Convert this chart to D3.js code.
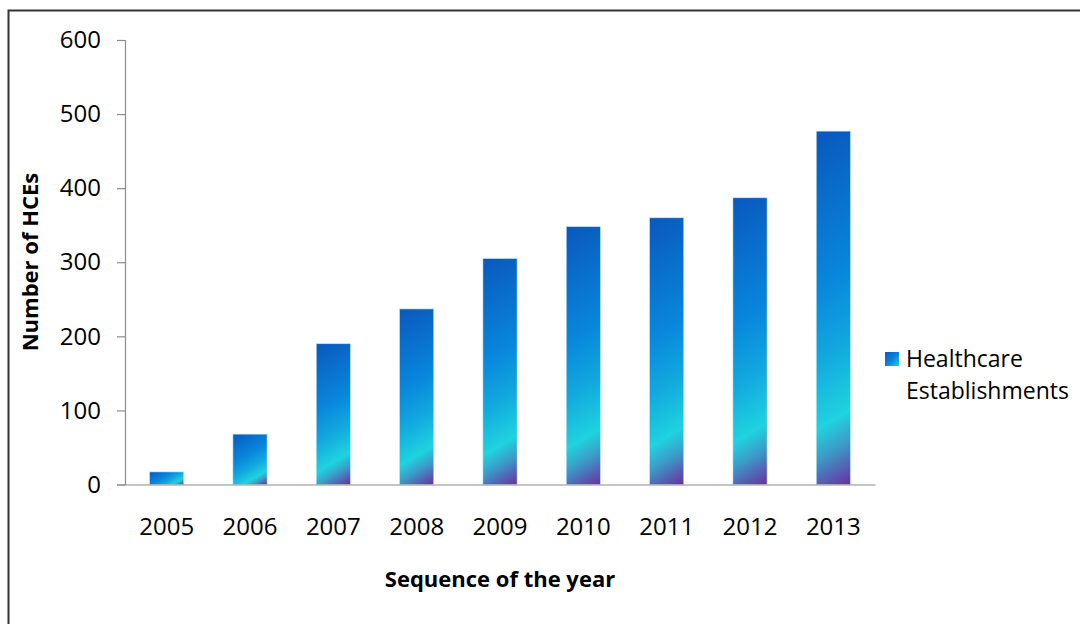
<!DOCTYPE html>
<html>
<head>
<meta charset="utf-8">
<script src="https://cdn.jsdelivr.net/npm/d3@7"></script>
<style>
  html, body { margin: 0; padding: 0; background: #fff; }
  svg { display: block; }
  text { font-family: "Open Sans", sans-serif; fill: #000; }
</style>
</head>
<body>
<svg id="chart" width="1080" height="624"></svg>
<script>
const years = ["2005", "2006", "2007", "2008", "2009", "2010", "2011", "2012", "2013"];
const hces = [17, 68, 190, 237, 305, 348, 360, 387, 477];
const yTicks = [0, 100, 200, 300, 400, 500, 600];
const seriesName = ["Healthcare", "Establishments"];
const xTitle = "Sequence of the year";
const yTitle = "Number of HCEs";

const svg = d3.select("#chart");
const m = { left: 125, right: 875, top: 40, bottom: 484.5 };

// outer frame (only top and left edges visible)
svg.append("rect").attr("x", 8.5).attr("y", 10.5).attr("width", 1200).attr("height", 800)
  .attr("fill", "#fff").attr("stroke", "#333").attr("stroke-width", 2);

const x = d3.scaleBand().domain(years).range([m.left, m.right]).paddingInner(0.59).paddingOuter(0.295);
const y = d3.scaleLinear().domain([0, 600]).range([m.bottom, m.top]);

const defs = svg.append("defs");
const stops = [
  [0, "#0a58bd"], [0.42, "#0887dc"], [0.62, "#12a9de"], [0.8, "#1fd3df"], [0.88, "#3b9cc8"], [1, "#6a2ea2"]
];
const s = 0.6;
hces.forEach((v, i) => {
  const x0 = x(years[i]), w = x.bandwidth(), top = y(v), h = y(0) - y(v);
  const k = (s * w + h) / (s * s + 1);
  const g = defs.append("linearGradient").attr("id", "g" + i).attr("gradientUnits", "userSpaceOnUse")
    .attr("x1", x0).attr("y1", top).attr("x2", x0 + s * k).attr("y2", top + k);
  stops.forEach(st => g.append("stop").attr("offset", st[0]).attr("stop-color", st[1]));
});

// y axis
const yAxis = svg.append("g").attr("transform", `translate(${m.left},0)`)
  .call(d3.axisLeft(y).tickValues(yTicks).tickSize(8).tickPadding(16).tickFormat(d3.format("d")));
yAxis.select(".domain").attr("stroke", "#8c8c8c").attr("stroke-width", 1.2);
yAxis.selectAll(".tick line").attr("stroke", "#8c8c8c").attr("stroke-width", 1.2);
yAxis.selectAll(".tick text").attr("font-size", 24).attr("font-family", "Open Sans, sans-serif").attr("fill", "#000");

// bars
svg.append("g").selectAll("rect").data(hces).join("rect")
  .attr("x", (d, i) => x(years[i]))
  .attr("y", d => y(d))
  .attr("width", x.bandwidth())
  .attr("height", d => y(0) - y(d))
  .attr("fill", (d, i) => `url(#g${i})`)
  .attr("stroke", "#bfe6f5").attr("stroke-width", 0.6);

// x axis
const xAxis = svg.append("g").attr("transform", `translate(0,${m.bottom})`)
  .call(d3.axisBottom(x).tickSize(0).tickPadding(33));
xAxis.select(".domain").attr("stroke", "#8c8c8c").attr("stroke-width", 1.2);
xAxis.selectAll(".tick text").attr("font-size", 24).attr("font-family", "Open Sans, sans-serif").attr("fill", "#000");

// titles
svg.append("text").attr("x", 500).attr("y", 587).attr("text-anchor", "middle")
  .attr("font-size", 22).attr("font-weight", "bold").text(xTitle);
svg.append("text").attr("transform", "translate(38,262) rotate(-90)").attr("text-anchor", "middle")
  .attr("font-size", 22).attr("font-weight", "bold").text(yTitle);

// legend
const lg = defs.append("linearGradient").attr("id", "lg").attr("x1", 0).attr("y1", 0).attr("x2", 1).attr("y2", 1);
[[0, "#0a58bd"], [0.55, "#0887dc"], [1, "#1fd3df"]].forEach(st => lg.append("stop").attr("offset", st[0]).attr("stop-color", st[1]));
svg.append("rect").attr("x", 885).attr("y", 352).attr("width", 14).attr("height", 14).attr("fill", "url(#lg)");
svg.append("text").attr("x", 906).attr("y", 367).attr("font-size", 23).text(seriesName[0]);
svg.append("text").attr("x", 906).attr("y", 399).attr("font-size", 23).text(seriesName[1]);
</script>
</body>
</html>
